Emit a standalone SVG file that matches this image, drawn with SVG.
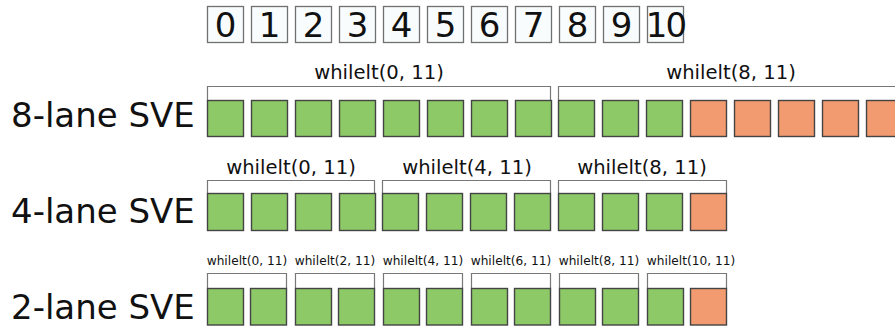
<svg xmlns="http://www.w3.org/2000/svg" width="895" height="327" viewBox="0 0 895 327">
<style>
text{font-family:"DejaVu Sans",sans-serif;fill:#111}
.idx rect{fill:#f8fcfc;stroke:#707070;stroke-width:1.3}
.idx text{font-size:34px;text-anchor:middle}
.g{fill:#8dc967;stroke:#444;stroke-width:1.4}
.o{fill:#f29a70;stroke:#444;stroke-width:1.4}
.row{font-size:34px}
.l1{font-size:19.6px;text-anchor:middle}
.l2{font-size:12.2px;text-anchor:middle}
.br{fill:none;stroke:#777;stroke-width:1.2}
</style>
<rect width="895" height="327" fill="#fff"/>
<g id="indices" class="idx">
<g id="idx0"><rect x="207.5" y="6.5" width="36" height="36"/><text x="225.5" y="37">0</text></g>
<g id="idx1"><rect x="251.5" y="6.5" width="36" height="36"/><text x="269.5" y="37">1</text></g>
<g id="idx2"><rect x="295.5" y="6.5" width="36" height="36"/><text x="313.5" y="37">2</text></g>
<g id="idx3"><rect x="339.5" y="6.5" width="36" height="36"/><text x="357.5" y="37">3</text></g>
<g id="idx4"><rect x="383.5" y="6.5" width="36" height="36"/><text x="401.5" y="37">4</text></g>
<g id="idx5"><rect x="427.5" y="6.5" width="36" height="36"/><text x="445.5" y="37">5</text></g>
<g id="idx6"><rect x="471.5" y="6.5" width="36" height="36"/><text x="489.5" y="37">6</text></g>
<g id="idx7"><rect x="515.5" y="6.5" width="36" height="36"/><text x="533.5" y="37">7</text></g>
<g id="idx8"><rect x="559.5" y="6.5" width="36" height="36"/><text x="577.5" y="37">8</text></g>
<g id="idx9"><rect x="603.5" y="6.5" width="36" height="36"/><text x="621.5" y="37">9</text></g>
<g id="idx10"><rect x="647.5" y="6.5" width="36" height="36"/><text x="665.5" y="37" letter-spacing="-2">10</text></g>
</g>
<g id="connectors">
<path class="br" d="M207.5,100 V86.5 H550.5 V100"/>
<path class="br" d="M558.5,100 V86.5 H902.5 V100"/>
<path class="br" d="M207.5,193 V180.5 H374.5 V193"/>
<path class="br" d="M382.5,193 V180.5 H550.5 V193"/>
<path class="br" d="M558.5,193 V180.5 H726.5 V193"/>
<path class="br" d="M207.5,288 V273.5 H286.5 V288"/>
<path class="br" d="M295.5,288 V273.5 H374.5 V288"/>
<path class="br" d="M383.5,288 V273.5 H462.5 V288"/>
<path class="br" d="M471.5,288 V273.5 H550.5 V288"/>
<path class="br" d="M559.5,288 V273.5 H638.5 V288"/>
<path class="br" d="M647.5,288 V273.5 H726.5 V288"/>
</g>
<g id="row8">
<text class="row" x="11" y="127">8-lane SVE</text>
<text class="l1" x="379" y="79">whilelt(0, 11)</text>
<text class="l1" x="731" y="79">whilelt(8, 11)</text>
<g id="row8-cells">
<rect class="g" x="207.5" y="100.5" width="36" height="36"/>
<rect class="g" x="251.5" y="100.5" width="36" height="36"/>
<rect class="g" x="295.5" y="100.5" width="36" height="36"/>
<rect class="g" x="339.5" y="100.5" width="36" height="36"/>
<rect class="g" x="383.5" y="100.5" width="36" height="36"/>
<rect class="g" x="427.5" y="100.5" width="36" height="36"/>
<rect class="g" x="471.5" y="100.5" width="36" height="36"/>
<rect class="g" x="515.5" y="100.5" width="36" height="36"/>
<rect class="g" x="558.5" y="100.5" width="36" height="36"/>
<rect class="g" x="602.5" y="100.5" width="36" height="36"/>
<rect class="g" x="646.5" y="100.5" width="36" height="36"/>
<rect class="o" x="690.5" y="100.5" width="36" height="36"/>
<rect class="o" x="734.5" y="100.5" width="36" height="36"/>
<rect class="o" x="778.5" y="100.5" width="36" height="36"/>
<rect class="o" x="822.5" y="100.5" width="36" height="36"/>
<rect class="o" x="866.5" y="100.5" width="36" height="36"/>
</g>
</g>
<g id="row4">
<text class="row" x="11" y="223">4-lane SVE</text>
<text class="l1" x="291" y="174">whilelt(0, 11)</text>
<text class="l1" x="467" y="174">whilelt(4, 11)</text>
<text class="l1" x="642" y="174">whilelt(8, 11)</text>
<g id="row4-cells">
<rect class="g" x="207.5" y="193.5" width="36" height="37"/>
<rect class="g" x="251.5" y="193.5" width="36" height="37"/>
<rect class="g" x="295.5" y="193.5" width="36" height="37"/>
<rect class="g" x="339.5" y="193.5" width="36" height="37"/>
<rect class="g" x="382.5" y="193.5" width="36" height="37"/>
<rect class="g" x="426.5" y="193.5" width="36" height="37"/>
<rect class="g" x="470.5" y="193.5" width="36" height="37"/>
<rect class="g" x="514.5" y="193.5" width="36" height="37"/>
<rect class="g" x="558.5" y="193.5" width="36" height="37"/>
<rect class="g" x="602.5" y="193.5" width="36" height="37"/>
<rect class="g" x="646.5" y="193.5" width="36" height="37"/>
<rect class="o" x="690.5" y="193.5" width="36" height="37"/>
</g>
</g>
<g id="row2">
<text class="row" x="11" y="319">2-lane SVE</text>
<text class="l2" x="247" y="265">whilelt(0, 11)</text>
<text class="l2" x="335" y="265">whilelt(2, 11)</text>
<text class="l2" x="423" y="265">whilelt(4, 11)</text>
<text class="l2" x="511" y="265">whilelt(6, 11)</text>
<text class="l2" x="599" y="265">whilelt(8, 11)</text>
<text class="l2" x="691" y="265">whilelt(10, 11)</text>
<g id="row2-cells">
<rect class="g" x="207.5" y="288.5" width="36" height="36.5"/>
<rect class="g" x="250.5" y="288.5" width="36" height="36.5"/>
<rect class="g" x="295.5" y="288.5" width="36" height="36.5"/>
<rect class="g" x="338.5" y="288.5" width="36" height="36.5"/>
<rect class="g" x="383.5" y="288.5" width="36" height="36.5"/>
<rect class="g" x="426.5" y="288.5" width="36" height="36.5"/>
<rect class="g" x="471.5" y="288.5" width="36" height="36.5"/>
<rect class="g" x="514.5" y="288.5" width="36" height="36.5"/>
<rect class="g" x="559.5" y="288.5" width="36" height="36.5"/>
<rect class="g" x="602.5" y="288.5" width="36" height="36.5"/>
<rect class="g" x="647.5" y="288.5" width="36" height="36.5"/>
<rect class="o" x="690.5" y="288.5" width="36" height="36.5"/>
</g>
</g>
</svg>
